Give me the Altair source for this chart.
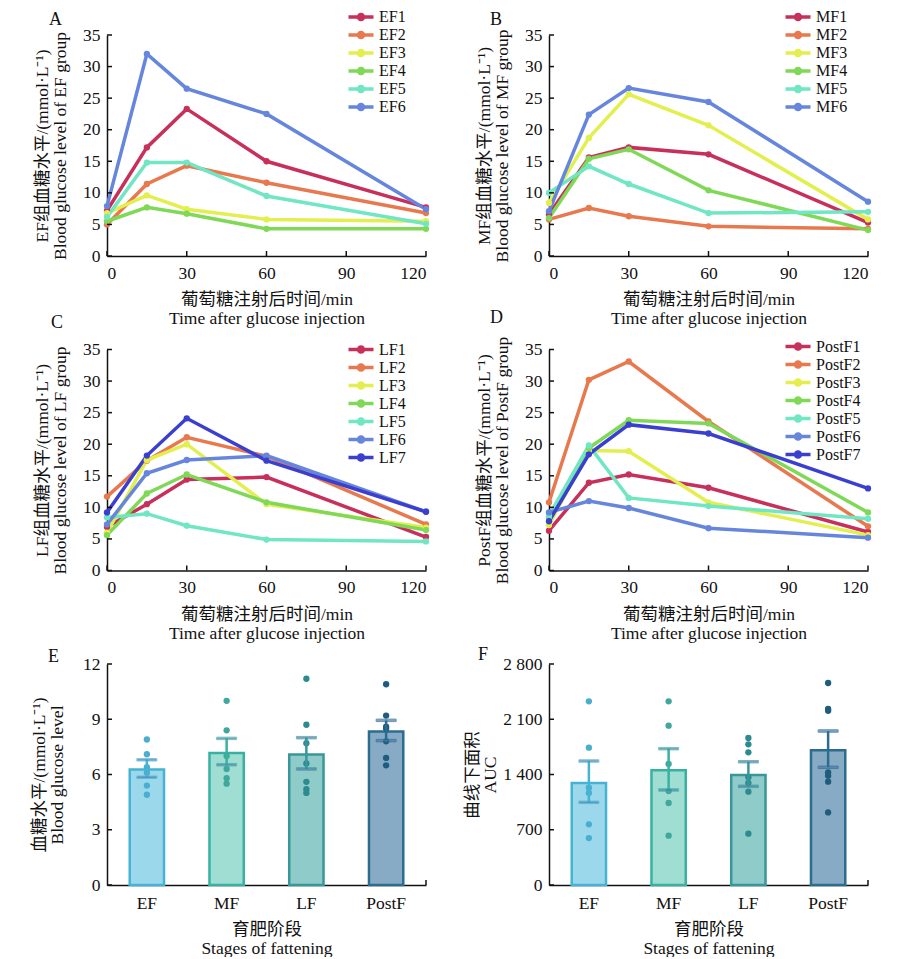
import altair as alt
import pandas as pd

FONT = "Liberation Serif, Noto Sans CJK SC, serif"

TIMES = [0, 15, 30, 60, 120]
X_TICKS = [0, 30, 60, 90, 120]
Y_TICKS_LINE = [0, 5, 10, 15, 20, 25, 30, 35]

LINE_COLORS = ["#c8305c", "#e8794f", "#e2ef4e", "#7fd957", "#70e6c2", "#6686de", "#3b3fcf"]

EF_NAMES = ["EF1", "EF2", "EF3", "EF4", "EF5", "EF6"]
EF_VALUES = [
    [7.2, 17.2, 23.3, 15.0, 7.7],
    [5.0, 11.4, 14.3, 11.6, 6.8],
    [6.8, 9.6, 7.4, 5.8, 5.5],
    [5.5, 7.7, 6.7, 4.3, 4.3],
    [6.2, 14.8, 14.8, 9.5, 5.1],
    [7.9, 32.0, 26.5, 22.5, 7.4],
]

MF_NAMES = ["MF1", "MF2", "MF3", "MF4", "MF5", "MF6"]
MF_VALUES = [
    [6.6, 15.6, 17.2, 16.1, 5.3],
    [5.8, 7.6, 6.3, 4.7, 4.3],
    [8.4, 18.7, 25.6, 20.7, 5.8],
    [6.0, 15.4, 16.9, 10.4, 4.1],
    [10.0, 14.2, 11.4, 6.8, 7.0],
    [7.1, 22.4, 26.6, 24.4, 8.6],
]

LF_NAMES = ["LF1", "LF2", "LF3", "LF4", "LF5", "LF6", "LF7"]
LF_VALUES = [
    [6.9, 10.5, 14.4, 14.8, 5.3],
    [11.7, 17.4, 21.1, 18.1, 7.3],
    [6.0, 17.5, 20.0, 10.5, 6.8],
    [5.6, 12.2, 15.2, 10.8, 6.4],
    [8.4, 9.0, 7.1, 4.9, 4.6],
    [7.3, 15.4, 17.5, 18.2, 9.3],
    [9.2, 18.2, 24.1, 17.4, 9.3],
]

POSTF_NAMES = ["PostF1", "PostF2", "PostF3", "PostF4", "PostF5", "PostF6", "PostF7"]
POSTF_VALUES = [
    [6.3, 13.9, 15.2, 13.1, 6.1],
    [10.8, 30.2, 33.1, 23.6, 7.0],
    [7.2, 19.0, 18.9, 10.8, 5.6],
    [8.4, 19.4, 23.8, 23.3, 9.2],
    [8.7, 19.8, 11.5, 10.2, 8.2],
    [9.2, 11.0, 9.9, 6.7, 5.2],
    [7.8, 18.4, 23.1, 21.7, 13.0],
]

STAGES = ["EF", "MF", "LF", "PostF"]
BAR_FILL = ["#9cd8eb", "#a0ddd3", "#8ecbc9", "#88abc5"]
BAR_STROKE = ["#45b3d4", "#37b2a2", "#37979a", "#2c6c8e"]
PT_COLOR = ["#4aaed0", "#3fa79b", "#2b8b8e", "#1f5d7e"]

E_MEAN = [6.27, 7.17, 7.08, 8.33]
E_LO = [5.85, 6.53, 6.30, 7.84]
E_HI = [6.80, 7.96, 8.00, 8.94]
E_POINTS = [
    [7.9, 7.1, 6.4, 6.1, 5.4, 4.9],
    [10.0, 8.4, 7.0, 6.3, 5.8, 5.5],
    [11.2, 8.7, 7.7, 6.6, 5.6, 5.2, 5.0],
    [10.9, 9.2, 8.6, 8.5, 7.8, 6.9, 6.5],
]
E_TICKS = [0, 3, 6, 9, 12]

F_MEAN = [1292, 1453, 1394, 1706]
F_LO = [1047, 1204, 1250, 1491]
F_HI = [1571, 1727, 1562, 1951]
F_POINTS = [
    [2327, 1740, 1233, 1166, 769, 595],
    [2327, 2019, 1533, 1190, 1039, 625],
    [1862, 1782, 1681, 1364, 1292, 1182, 650],
    [2559, 2230, 2208, 1427, 1385, 1309, 920],
]
F_TICKS = [0, 700, 1400, 2100, 2800]

W, H = 319, 221
PATH = "M-2.5,0L2.5,0M0.5,0A0.5,0.5,0,1,1,-0.5,0A0.5,0.5,0,1,1,0.5,0Z"


def letter_title(letter, dx, dy):
    return alt.TitleParams(letter, anchor="start", frame="group", dx=dx, dy=dy,
                           fontSize=18, font=FONT, fontWeight="normal", color="#111",
                           offset=0)


def line_panel(letter, group, names, values, lx, ly, tdx, tdy):
    rows = []
    for name, vals in zip(names, values):
        for t, v in zip(TIMES, vals):
            rows.append({"series": name, "t": t, "v": v})
    df = pd.DataFrame(rows)
    x = alt.X("t:Q", scale=alt.Scale(domain=[0, 120], nice=False),
              axis=alt.Axis(values=X_TICKS, ticks=False, labelPadding=8, titlePadding=9,
                            title=["葡萄糖注射后时间/min", "Time after glucose injection"]))
    y = alt.Y("v:Q", scale=alt.Scale(domain=[0, 35], nice=False),
              axis=alt.Axis(values=Y_TICKS_LINE, ticks=False, labelPadding=7, titlePadding=13,
                            title=[f"{group}组血糖水平/(mmol·L⁻¹)", f"Blood glucose level of {group} group"]))
    color = alt.Color("series:N", scale=alt.Scale(domain=names, range=LINE_COLORS[:len(names)]),
                      legend=alt.Legend(title=None, orient="none", legendX=lx, legendY=ly,
                                        symbolType=PATH, symbolSize=100, symbolStrokeWidth=3.5,
                                        labelFontSize=16, labelFont=FONT, labelColor="#111",
                                        rowPadding=-2, labelOffset=10, padding=0))
    lines = alt.Chart(df).mark_line(strokeWidth=3.5).encode(x=x, y=y, color=color)
    pts = alt.Chart(df).mark_circle(size=40, opacity=1).encode(x=x, y=y, color=color)
    xt = alt.Chart(pd.DataFrame({"t": X_TICKS})).mark_rule(color="#111", strokeWidth=1.5).encode(
        x=x, y=alt.value(H), y2=alt.value(H - 5))
    yt = alt.Chart(pd.DataFrame({"v": Y_TICKS_LINE})).mark_rule(color="#111", strokeWidth=1.5).encode(
        y=y, x=alt.value(0), x2=alt.value(5))
    return alt.layer(lines, pts, xt, yt).properties(width=W, height=H, title=letter_title(letter, tdx, tdy))


def bar_panel(letter, means, lo, hi, points, ticks, ytitle, tdx, tdy, tpad, label_expr=None):
    bar_df = pd.DataFrame({"stage": STAGES, "v": means})
    err_df = pd.DataFrame({"stage": STAGES, "v": lo, "v2": hi})
    cap_df = pd.DataFrame({"stage": STAGES + STAGES, "v": list(lo) + list(hi)})
    pt_df = pd.DataFrame([{"stage": s, "v": v} for s, vals in zip(STAGES, points) for v in vals])
    x = alt.X("stage:N", sort=STAGES,
              scale=alt.Scale(domain=STAGES, paddingInner=0.57, paddingOuter=0.285),
              axis=alt.Axis(title=["育肥阶段", "Stages of fattening"], labelAngle=0, ticks=False,
                            labelPadding=9, titlePadding=9))
    axis_kw = dict(values=ticks, ticks=False, labelPadding=7, titlePadding=tpad, title=ytitle)
    if label_expr:
        axis_kw["labelExpr"] = label_expr
    y = alt.Y("v:Q", scale=alt.Scale(domain=[ticks[0], ticks[-1]], nice=False), axis=alt.Axis(**axis_kw))
    fill = alt.Fill("stage:N", scale=alt.Scale(domain=STAGES, range=BAR_FILL), legend=None)
    stroke = alt.Stroke("stage:N", scale=alt.Scale(domain=STAGES, range=BAR_STROKE), legend=None)
    pcolor = alt.Color("stage:N", scale=alt.Scale(domain=STAGES, range=PT_COLOR), legend=None)
    bars = alt.Chart(bar_df).mark_bar(strokeWidth=2.5).encode(x=x, y=y, fill=fill, stroke=stroke)
    pts = alt.Chart(pt_df).mark_circle(size=40, opacity=1).encode(x=x, y=y, color=pcolor)
    err = alt.Chart(err_df).mark_rule(strokeWidth=2.5).encode(x=x, y=y, y2="v2:Q", stroke=stroke)
    caps = alt.Chart(cap_df).mark_tick(thickness=2.5, size=20).encode(x=x, y=y, stroke=stroke)
    yt = alt.Chart(pd.DataFrame({"v": ticks})).mark_rule(color="#111", strokeWidth=1.5).encode(
        y=y, x=alt.value(0), x2=alt.value(5))
    endtick = alt.Chart(pd.DataFrame({"v": [ticks[0]]})).mark_rule(color="#111", strokeWidth=1.5).encode(
        x=alt.value(W), y=alt.value(H), y2=alt.value(H - 5))
    return alt.layer(bars, pts, err, caps, yt, endtick).properties(
        width=W, height=H, title=letter_title(letter, tdx, tdy))


A = line_panel("A", "EF", EF_NAMES, EF_VALUES, 246, -26, -58, 20)
B = line_panel("B", "MF", MF_NAMES, MF_VALUES, 241, -26, -59, 20)
C = line_panel("C", "LF", LF_NAMES, LF_VALUES, 246, -8, -56, -9)
D = line_panel("D", "PostF", POSTF_NAMES, POSTF_VALUES, 241, -11, -59, -9)
E = bar_panel("E", E_MEAN, E_LO, E_HI, E_POINTS, E_TICKS, ["血糖水平/(mmol·L⁻¹)", "Blood glucose level"],
              -59, 11, 16)
F = bar_panel("F", F_MEAN, F_LO, F_HI, F_POINTS, F_TICKS, ["曲线下面积", "AUC"], -71, 9, 3,
              label_expr="replace(format(datum.value, ','), ',', ' ')")

chart = alt.concat(A, B, C, D, E, F, columns=2, bounds="flush",
                   spacing=alt.RowColnumber(row=93.5, column=123)).resolve_scale(
    x="independent", y="independent", color="independent", fill="independent", stroke="independent"
).resolve_legend(color="independent").properties(
    padding={"left": 22, "top": 1, "right": 5, "bottom": 0}
).configure_view(stroke=None).configure_axis(
    grid=False, domainColor="#111", domainWidth=1.5, labelColor="#111", titleColor="#111",
    labelFont=FONT, titleFont=FONT, labelFontSize=17.5, titleFontSize=17.5,
    titleFontWeight="normal", labelOverlap=False
).configure_axisX(titleLineHeight=19).configure_axisY(titleLineHeight=18).configure_legend(labelFont=FONT)

chart.save("out.html", embed_options={"renderer": "svg", "actions": False})
